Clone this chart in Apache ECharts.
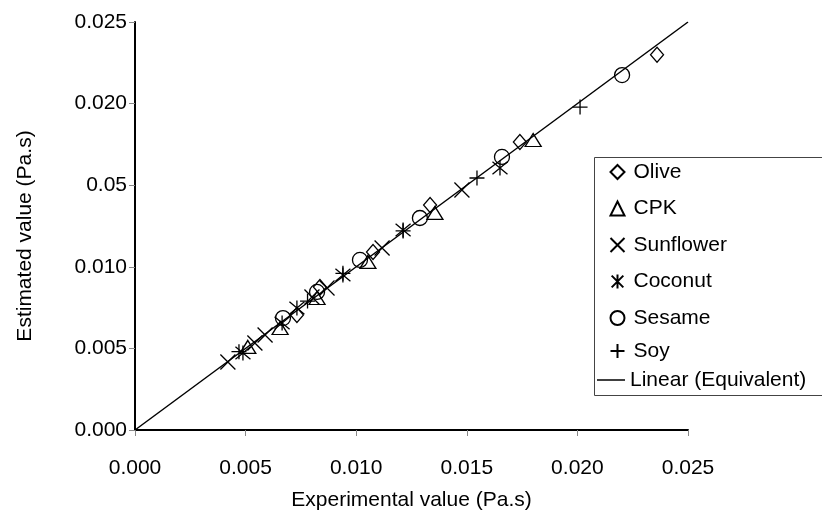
<!DOCTYPE html>
<html>
<head>
<meta charset="utf-8">
<script src="https://cdn.jsdelivr.net/npm/echarts@6/dist/echarts.min.js"></script>
<style>
  html, body { margin: 0; padding: 0; background: #fff; }
  #chart { width: 822px; height: 513px; }
</style>
</head>
<body>
<div id="chart"></div>
<script>
// values: [experimental, estimated] in Pa.s
const olive = [[0.0236, 0.0230], [0.0174, 0.01765], [0.01334, 0.01379], [0.01076, 0.0109], [0.00836, 0.00876], [0.00732, 0.00705]];
const cpk = [[0.0180, 0.01777], [0.01356, 0.0133], [0.01053, 0.0103], [0.00823, 0.00809], [0.00656, 0.00625], [0.0051, 0.00509]];
const sunflower = [[0.01478, 0.01471], [0.01117, 0.01115], [0.00868, 0.0087], [0.008, 0.00815], [0.00588, 0.00582], [0.00542, 0.00533], [0.0042, 0.00417]];
const coconut = [[0.0165, 0.01605], [0.01212, 0.01225], [0.0094, 0.0095], [0.00732, 0.00748], [0.00665, 0.00656], [0.00488, 0.00472]];
const sesame = [[0.02202, 0.02175], [0.01659, 0.01673], [0.01288, 0.01299], [0.01017, 0.01042], [0.00823, 0.00846], [0.00669, 0.00686]];
const soy = [[0.02012, 0.01979], [0.01546, 0.01544], [0.01212, 0.0122], [0.0094, 0.0096], [0.0078, 0.0079], [0.0047, 0.0048]];
const equivalent = [[0, 0], [0.025, 0.025]];

const xTickLabels = ['0.000', '0.005', '0.010', '0.015', '0.020', '0.025'];
// the source figure really prints 0.05 at the 0.015 tick
const yTickLabels = ['0.000', '0.005', '0.010', '0.05', '0.020', '0.025'];

const font = '"Liberation Sans", Arial, sans-serif';
const symX = 'path://M0,0L10,10M10,0L0,10';
const symStar = 'path://M0,1L10,11M10,1L0,11M5,0L5,12';
const symPlus = 'path://M5,0L5,10M0,5L10,5';

const hollow = {
  color: 'none',
  borderColor: '#000',
  borderWidth: 1.3,
  opacity: 1,
};

const legendText = {
  fontFamily: font,
  fontSize: 21,
  lineHeight: 22,
  color: '#000',
  padding: [0, 0, 0, 4],
};

const chart = echarts.init(document.getElementById('chart'));
chart.setOption({
  animation: false,
  backgroundColor: '#fff',
  grid: {
    left: 135,
    right: 134,
    top: 22,
    bottom: 83,
    outerBoundsMode: 'none',
  },
  xAxis: {
    type: 'value',
    min: 0,
    max: 0.025,
    interval: 0.005,
    name: 'Experimental value (Pa.s)',
    nameLocation: 'middle',
    nameGap: 60,
    nameTextStyle: { fontFamily: font, fontSize: 21, color: '#000' },
    axisLine: { lineStyle: { color: '#000', width: 2 } },
    axisTick: { show: true, inside: false, length: 6, lineStyle: { color: '#888' } },
    axisLabel: {
      margin: 28,
      fontFamily: font,
      fontSize: 21,
      color: '#000',
      formatter: (v) => xTickLabels[Math.round(v / 0.005)],
    },
    splitLine: { show: false },
  },
  yAxis: {
    type: 'value',
    min: 0,
    max: 0.025,
    interval: 0.005,
    name: 'Estimated value (Pa.s)',
    nameLocation: 'middle',
    nameGap: 99,
    nameTextStyle: {
      fontFamily: font,
      fontSize: 21,
      color: '#000',
      padding: [0, 20, 0, 0],
    },
    axisLine: { lineStyle: { color: '#000', width: 2 } },
    axisTick: { show: true, inside: false, length: 6, lineStyle: { color: '#888' } },
    axisLabel: {
      margin: 8,
      fontFamily: font,
      fontSize: 21,
      color: '#000',
      formatter: (v) => yTickLabels[Math.round(v / 0.005)],
    },
    splitLine: { show: false },
  },
  graphic: [
    {
      type: 'rect',
      shape: { x: 594.5, y: 157.5, width: 240, height: 238 },
      style: { fill: '#fff', stroke: '#444', lineWidth: 1 },
      z: 1,
    },
  ],
  legend: [
    {
      orient: 'vertical',
      left: 603,
      top: 156,
      itemGap: 14.5,
      itemWidth: 14,
      itemHeight: 14,
      textStyle: legendText,
      z: 5,
      data: ['Olive', 'CPK', 'Sunflower', 'Coconut', 'Sesame'],
    },
    {
      orient: 'vertical',
      left: 603,
      top: 335,
      itemWidth: 14,
      itemHeight: 14,
      textStyle: legendText,
      z: 5,
      data: ['Soy'],
    },
    {
      orient: 'vertical',
      left: 592,
      top: 364,
      itemWidth: 28,
      itemHeight: 1.5,
      itemGap: 3,
      textStyle: { ...legendText, padding: [0, 0, 0, 0] },
      z: 5,
      data: [{ name: 'Linear (Equivalent)', icon: 'rect' }],
    },
  ],
  series: [
    {
      name: 'Linear (Equivalent)',
      type: 'line',
      data: equivalent,
      showSymbol: false,
      symbol: 'none',
      lineStyle: { color: '#000', width: 1.5 },
      itemStyle: { color: '#000' },
      z: 1,
    },
    {
      name: 'Olive',
      type: 'scatter',
      data: olive,
      symbol: 'diamond',
      symbolSize: [13, 15],
      itemStyle: hollow,
      z: 3,
    },
    {
      name: 'CPK',
      type: 'scatter',
      data: cpk,
      symbol: 'triangle',
      symbolSize: [16, 13],
      itemStyle: hollow,
      z: 3,
    },
    {
      name: 'Sunflower',
      type: 'scatter',
      data: sunflower,
      symbol: symX,
      symbolSize: 15,
      itemStyle: hollow,
      z: 3,
    },
    {
      name: 'Coconut',
      type: 'scatter',
      data: coconut,
      symbol: symStar,
      symbolSize: 15,
      itemStyle: hollow,
      z: 3,
    },
    {
      name: 'Sesame',
      type: 'scatter',
      data: sesame,
      symbol: 'circle',
      symbolSize: 15,
      itemStyle: hollow,
      z: 3,
    },
    {
      name: 'Soy',
      type: 'scatter',
      data: soy,
      symbol: symPlus,
      symbolSize: 15,
      itemStyle: hollow,
      z: 3,
    },
  ],
});
</script>
</body>
</html>
